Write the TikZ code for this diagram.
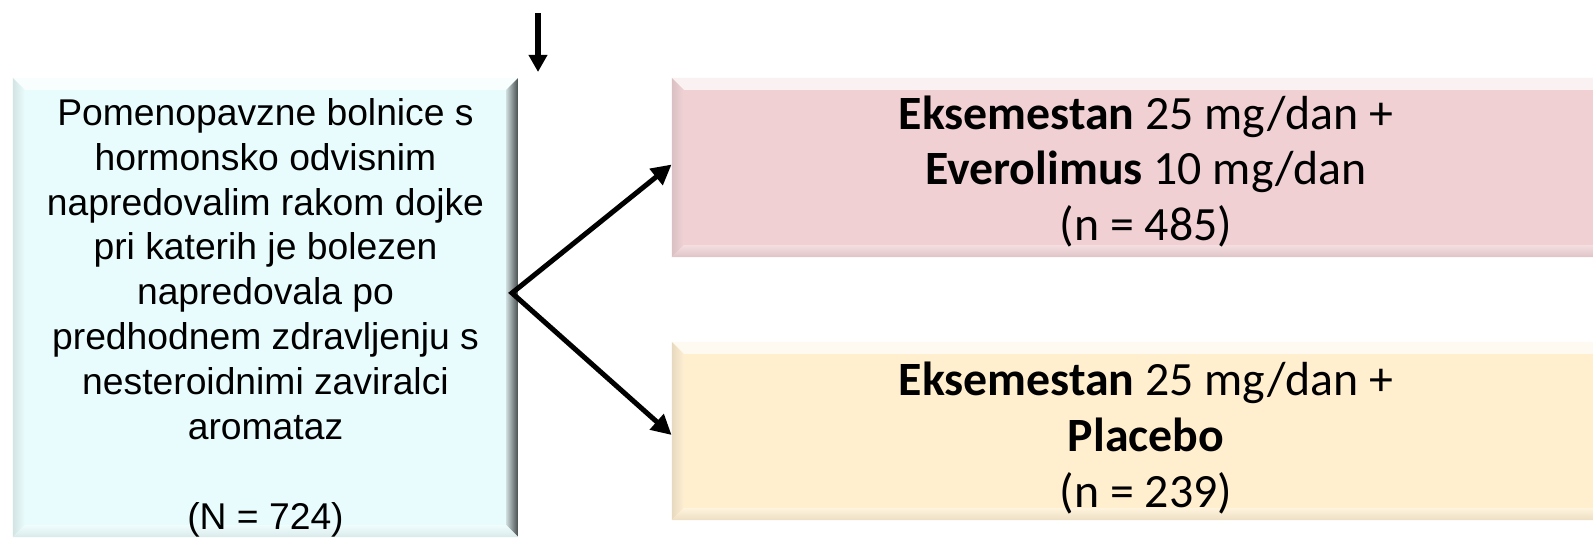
\documentclass[tikz,border=0pt]{standalone}
\usepackage{fontspec}
\setmainfont{Liberation Sans}
\newfontfamily\armfont{Carlito}
\usepackage{tikz}
\usetikzlibrary{positioning,arrows.meta}

\definecolor{popcyan}{RGB}{233,252,253}
\definecolor{armpink}{RGB}{240,208,211}
\definecolor{armyellow}{RGB}{255,239,207}

\begin{document}
\begin{tikzpicture}[
		x=0.025cm, y=-0.025cm,
		bevelbox/.style={rectangle, draw=none, fill=#1, inner sep=0pt,
			path picture={
				\coordinate (bnw) at (path picture bounding box.north west);
				\coordinate (bne) at (path picture bounding box.north east);
				\coordinate (bsw) at (path picture bounding box.south west);
				\coordinate (bse) at (path picture bounding box.south east);
				\fill[#1!30!white] (bnw) -- (bne) -- ([shift={(-3mm,-3mm)}]bne) -- ([shift={(3mm,-3mm)}]bnw) -- cycle;
				\shade[left color=#1!80!gray, right color=#1!95!white] (bnw) -- ([shift={(3mm,-3mm)}]bnw) -- ([shift={(3mm,3mm)}]bsw) -- (bsw) -- cycle;
				\shade[left color=#1!75!gray, right color=#1!30!black] (bne) -- ([shift={(-3mm,-3mm)}]bne) -- ([shift={(-3mm,3mm)}]bse) -- (bse) -- cycle;
				\shade[top color=#1!70!white, bottom color=#1!85!gray] (bsw) -- ([shift={(3mm,3mm)}]bsw) -- ([shift={(-3mm,3mm)}]bse) -- (bse) -- cycle;
			}},
		poptext/.style={align=center, inner sep=0pt, font=\fontsize{26.5}{31.9}\selectfont},
		armtext/.style={align=center, inner sep=0pt, font=\armfont\fontsize{34}{39.7}\selectfont},
		flowarrow/.style={line width=1.25mm, {Triangle[length=5mm, width=5mm]}-{Triangle[length=5mm, width=5mm]}},
		inarrow/.style={line width=1.6mm, -{Triangle[length=4.3mm, width=4.5mm]}},
	]

	\useasboundingbox (0,0) rectangle (1593,539);

	%Boxes
	\node[bevelbox=popcyan, minimum width=126.25mm, minimum height=114.75mm] (pop) at (265.5,307.5) {};
	\node[poptext] (poptxt) at ([yshift=-2.5mm]pop.center) {Pomenopavzne bolnice s\\hormonsko odvisnim\\napredovalim rakom dojke\\pri katerih je bolezen\\napredovala po\\predhodnem zdravljenju s\\nesteroidnimi zaviralci\\aromataz\\~\\(N = 724)};

	\node[bevelbox=armpink, minimum width=237mm, minimum height=44.75mm] (armA) at (1146,167.5) {};
	\node[armtext] (armAtxt) at ([yshift=-1mm]armA.center) {{\bfseries Eksemestan} 25 mg/dan +\\{\bfseries Everolimus} 10 mg/dan\\(n = 485)};
	\node[bevelbox=armyellow, minimum width=237mm, minimum height=44.5mm] (armB) at (1146,431) {};
	\node[armtext] (armBtxt) at ([yshift=-1.75mm]armB.center) {{\bfseries Eksemestan} 25 mg/dan +\\{\bfseries Placebo}\\(n = 239)};

	%Lines
	\coordinate (in) at (538,13);
	\coordinate (inTip) at (538,72);
	\coordinate (fork) at (512,293);
	\draw[inarrow] (in) -- (inTip);
	\draw[flowarrow] ([yshift=0.75mm]armA.west) -- (fork) -- ([yshift=-1mm]armB.west);

\end{tikzpicture}
\end{document}
